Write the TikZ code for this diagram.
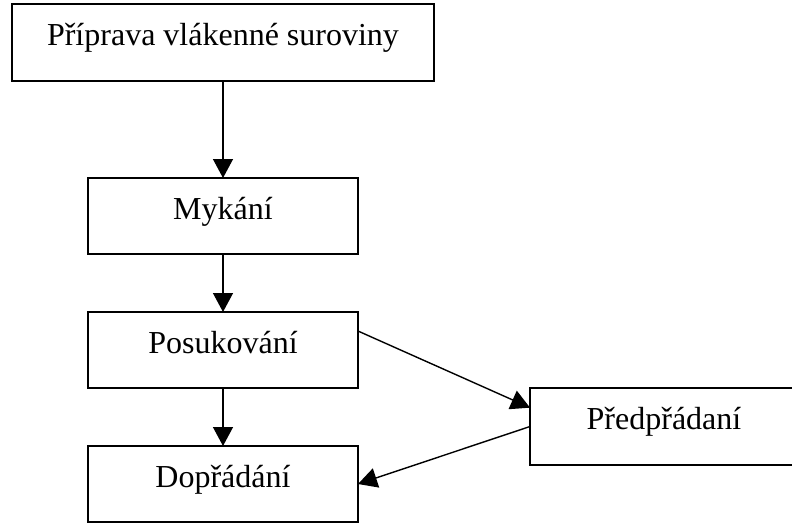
\documentclass[tikz,border=0pt]{standalone}
\usepackage{fontspec}
\setmainfont{Liberation Serif}
\usetikzlibrary{positioning, arrows.meta}

\begin{document}
\begin{tikzpicture}[
    x=1pt, y=1pt,
    node distance=58pt and 172pt,
    every node/.style={draw, line width=1.4pt, outer sep=0pt, minimum height=76pt, inner sep=0pt, text height=22pt, text depth=16pt, font=\fontsize{32}{38}\selectfont},
    arrow/.style={-{Triangle[length=19pt, width=20pt]}, line width=1.4pt}
]
\useasboundingbox (0,0) rectangle (792,-524);

% Nodes
\node[minimum width=422pt, minimum height=77pt, anchor=north west] (prep) at (12,-4) {Příprava vlákenné suroviny};

\node[minimum width=270pt] (myk) [below=97pt of prep] {Mykání};

\node[minimum width=270pt] (posuk) [below=of myk] {Posukování};

\node[minimum width=270pt] (dopr) [below=of posuk] {Dopřádání};

\node[minimum width=268pt, minimum height=77pt] (predpr) [below right=0pt and 172pt of posuk] {Předpřádaní};

% Arrows
\draw[arrow] (prep) -- (myk);

\draw[arrow] (myk) -- (posuk);

\draw[arrow] (posuk) -- (dopr);

\draw[arrow] (posuk.8) -- (predpr.172);

\draw[arrow] (predpr.west) -- (dopr.east);

\end{tikzpicture}
\end{document}
